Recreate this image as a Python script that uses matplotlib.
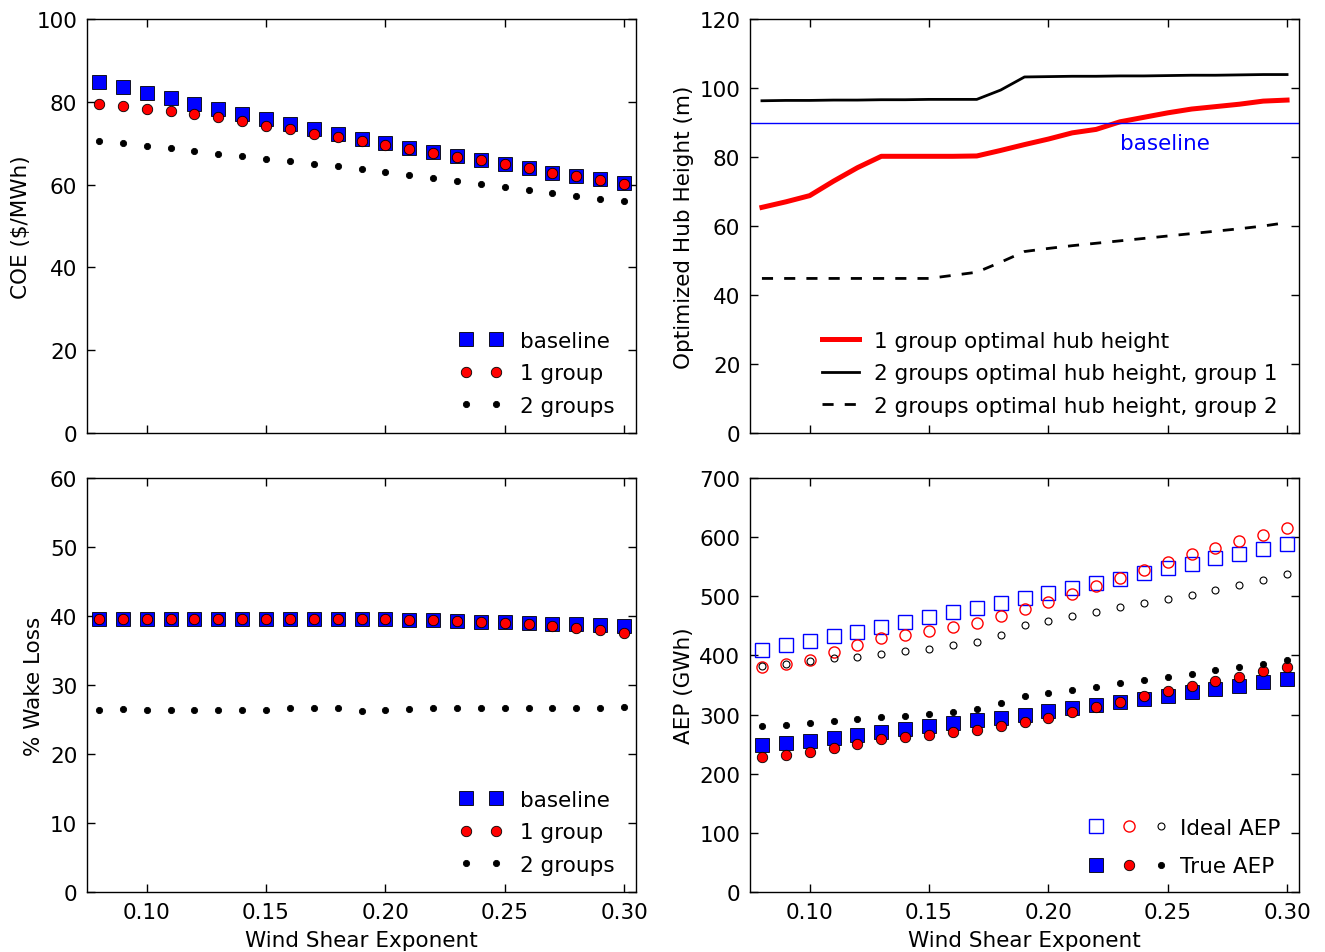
import matplotlib.pyplot as plt
from matplotlib.legend_handler import HandlerTuple

# wind shear exponent (x axis, shared)
shear = [0.08, 0.09, 0.10, 0.11, 0.12, 0.13, 0.14, 0.15, 0.16, 0.17, 0.18, 0.19,
         0.20, 0.21, 0.22, 0.23, 0.24, 0.25, 0.26, 0.27, 0.28, 0.29, 0.30]

# cost of energy ($/MWh)
coe_baseline = [84.9, 83.5, 82.1, 80.8, 79.5, 78.3, 77.1, 75.8, 74.6, 73.4, 72.2, 71.0,
                70.0, 68.9, 67.9, 66.9, 66.0, 64.9, 64.0, 62.9, 62.1, 61.3, 60.3]
coe_1group = [79.5, 78.9, 78.3, 77.8, 77.1, 76.3, 75.3, 74.2, 73.4, 72.3, 71.6, 70.6,
              69.6, 68.7, 67.7, 66.7, 65.9, 64.9, 64.0, 62.9, 62.1, 61.2, 60.2]
coe_2groups = [70.5, 70.0, 69.3, 68.8, 68.1, 67.5, 66.8, 66.3, 65.6, 65.0, 64.4, 63.8,
               63.0, 62.4, 61.6, 60.9, 60.1, 59.5, 58.8, 58.0, 57.3, 56.6, 56.0]

# optimized hub heights (m)
hub_baseline = 90.0
hub_1group = [65.4, 67.0, 68.8, 73.0, 76.9, 80.2, 80.2, 80.2, 80.2, 80.3, 81.9, 83.6,
              85.2, 87.0, 88.0, 90.2, 91.5, 92.8, 93.9, 94.6, 95.3, 96.2, 96.5]
hub_2groups_g1 = [96.3, 96.4, 96.4, 96.5, 96.5, 96.6, 96.6, 96.7, 96.7, 96.7, 99.4, 103.2,
                  103.3, 103.4, 103.4, 103.5, 103.5, 103.6, 103.7, 103.7, 103.8, 103.9, 103.9]
hub_2groups_g2 = [44.8, 44.8, 44.8, 44.8, 44.8, 44.8, 44.8, 44.8, 45.7, 46.6, 49.5, 52.6,
                  53.5, 54.3, 55.0, 55.7, 56.4, 57.1, 57.8, 58.5, 59.2, 60.0, 61.0]

# wake loss (%)
wake_baseline = [39.6, 39.6, 39.6, 39.6, 39.6, 39.6, 39.6, 39.6, 39.6, 39.6, 39.6, 39.6,
                 39.5, 39.4, 39.4, 39.3, 39.2, 39.2, 39.0, 38.9, 38.8, 38.7, 38.5]
wake_1group = [39.6, 39.6, 39.6, 39.6, 39.6, 39.6, 39.6, 39.6, 39.6, 39.6, 39.6, 39.6,
               39.5, 39.4, 39.4, 39.3, 39.1, 39.0, 38.8, 38.6, 38.3, 38.0, 37.6]
wake_2groups = [26.4, 26.5, 26.4, 26.4, 26.4, 26.4, 26.4, 26.4, 26.6, 26.7, 26.6, 26.3,
                26.4, 26.5, 26.6, 26.6, 26.6, 26.6, 26.6, 26.6, 26.6, 26.7, 26.8]

# annual energy production (GWh)
ideal_baseline = [410, 418, 425, 433, 440, 448, 456, 465, 473, 481, 489, 497,
                  506, 514, 522, 530, 539, 547, 555, 564, 572, 580, 588]
ideal_1group = [381, 386, 393, 405, 417, 429, 435, 442, 448, 455, 466, 478,
                490, 504, 517, 531, 545, 558, 571, 582, 593, 604, 615]
ideal_2groups = [382, 386, 391, 395, 398, 403, 407, 411, 417, 422, 435, 452,
                 459, 466, 474, 482, 488, 496, 503, 511, 519, 527, 537]
true_baseline = [248, 252, 256, 261, 266, 270, 275, 280, 285, 290, 295, 300,
                 306, 311, 316, 322, 327, 332, 338, 344, 349, 355, 360]
true_1group = [229, 232, 236, 243, 251, 258, 262, 266, 270, 274, 280, 288,
               295, 304, 312, 322, 331, 340, 348, 357, 364, 373, 381]
true_2groups = [280, 283, 286, 289, 292, 296, 298, 301, 305, 309, 319, 332,
                337, 342, 347, 353, 358, 363, 368, 375, 380, 386, 392]

FS = 15.5
plt.rcParams['font.family'] = 'DejaVu Sans'
plt.rcParams['font.size'] = FS

fig = plt.figure(figsize=(13.25, 9.53), dpi=100)
W, H = 1325.0, 953.0


def make_ax(l, t, r, b):
    return fig.add_axes([l / W, 1 - b / H, (r - l) / W, (b - t) / H])


ax_coe = make_ax(87, 20, 636, 434)
ax_hub = make_ax(750, 20, 1299, 434)
ax_wake = make_ax(87, 479, 636, 893)
ax_aep = make_ax(750, 479, 1299, 893)

for ax in (ax_coe, ax_hub, ax_wake, ax_aep):
    ax.set_xlim(0.075, 0.305)
    ax.set_xticks([0.10, 0.15, 0.20, 0.25, 0.30])
    ax.tick_params(direction='in', top=True, right=True, length=6, width=1,
                   pad=7, labelsize=FS)
    for s in ax.spines.values():
        s.set_linewidth(1)
for ax in (ax_coe, ax_hub):
    ax.set_xticklabels([])
for ax in (ax_wake, ax_aep):
    ax.set_xticklabels(['0.10', '0.15', '0.20', '0.25', '0.30'])
    ax.set_xlabel('Wind Shear Exponent', fontsize=FS, labelpad=6)

sq = dict(marker='s', ls='none', color='b', mec='k', mew=0.6, ms=9.5)
rc = dict(marker='o', ls='none', color='r', mec='k', mew=0.6, ms=7.5)
bd = dict(marker='o', ls='none', color='k', mec='k', mew=0.6, ms=4.5)

leg_kw = dict(loc='lower right', bbox_to_anchor=(1.0, -0.01), frameon=False,
              fontsize=FS, labelspacing=0.58, borderaxespad=0.6)

# COE
ax_coe.plot(shear, coe_baseline, label='baseline', **sq)
ax_coe.plot(shear, coe_1group, label='1 group', **rc)
ax_coe.plot(shear, coe_2groups, label='2 groups', **bd)
ax_coe.set_ylim(0, 100)
ax_coe.set_yticks(range(0, 101, 20))
ax_coe.set_ylabel(r'COE (\$/MWh)', fontsize=FS)
ax_coe.legend(numpoints=2, handlelength=2.0, **leg_kw)

# hub heights
ax_hub.plot(shear, hub_1group, color='r', lw=3.6, label='1 group optimal hub height')
ax_hub.plot(shear, hub_2groups_g1, color='k', lw=2,
            label='2 groups optimal hub height, group 1')
ax_hub.plot(shear, hub_2groups_g2, color='k', lw=2, ls='--', dashes=(4, 4),
            label='2 groups optimal hub height, group 2')
ax_hub.axhline(hub_baseline, color='b', lw=1)
ax_hub.text(0.23, 84, 'baseline', color='b', fontsize=FS, va='center', ha='left')
ax_hub.set_ylim(0, 120)
ax_hub.set_yticks(range(0, 121, 20))
ax_hub.set_ylabel('Optimized Hub Height (m)', fontsize=FS)
ax_hub.legend(handlelength=1.7, handletextpad=0.7, **leg_kw)

# wake loss
ax_wake.plot(shear, wake_baseline, label='baseline', **sq)
ax_wake.plot(shear, wake_1group, label='1 group', **rc)
ax_wake.plot(shear, wake_2groups, label='2 groups', **bd)
ax_wake.set_ylim(0, 60)
ax_wake.set_yticks(range(0, 61, 10))
ax_wake.set_ylabel('% Wake Loss', fontsize=FS)
ax_wake.legend(numpoints=2, handlelength=2.0, **leg_kw)

# AEP
i1, = ax_aep.plot(shear, ideal_baseline, marker='s', ls='none', mfc='none', mec='b',
                  mew=1, ms=10)
i2, = ax_aep.plot(shear, ideal_1group, marker='o', ls='none', mfc='none', mec='r',
                  mew=1, ms=8)
i3, = ax_aep.plot(shear, ideal_2groups, marker='o', ls='none', mfc='none', mec='k',
                  mew=0.8, ms=5)
t1, = ax_aep.plot(shear, true_baseline, **sq)
t2, = ax_aep.plot(shear, true_1group, **rc)
t3, = ax_aep.plot(shear, true_2groups, **bd)
ax_aep.set_ylim(0, 700)
ax_aep.set_yticks(range(0, 701, 100))
ax_aep.set_ylabel('AEP (GWh)', fontsize=FS)
ax_aep.legend([(i1, i2, i3), (t1, t2, t3)], ['Ideal AEP', 'True AEP'],
              handler_map={tuple: HandlerTuple(ndivide=None, pad=0.9)},
              numpoints=1, loc='lower right', bbox_to_anchor=(1.0, -0.006),
              frameon=False, fontsize=FS, handlelength=3.6, handletextpad=0.6,
              labelspacing=0.85, borderaxespad=0.45)

fig.savefig('out.png', dpi=100)
